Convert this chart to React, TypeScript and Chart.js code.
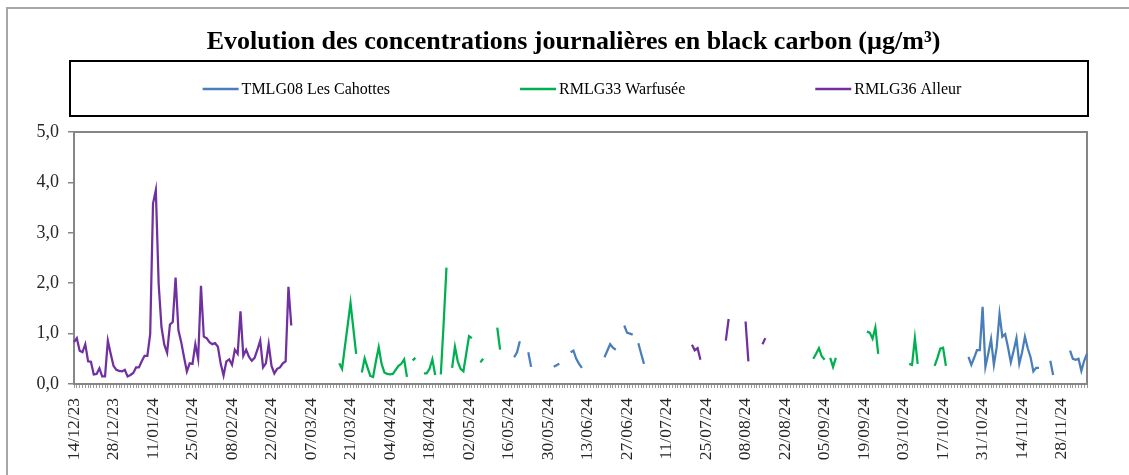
import React, { useEffect, useRef } from 'react';
import { Chart, registerables } from 'chart.js';

Chart.register(...registerables);

// ---------- data ----------
const START_DATE = '2023-12-14';
const END_DATE = '2024-12-07';
const LABEL_EVERY_DAYS = 14;

const TITLE = 'Evolution des concentrations journalières en black carbon (µg/m³)';
const SERIES_NAMES = ['TMLG08 Les Cahottes', 'RMLG33 Warfusée', 'RMLG36 Alleur'];
const SERIES_COLORS = ['#4a7ebb', '#00b050', '#7030a0'];

const Y_MIN = 0;
const Y_MAX = 5;
const Y_STEP = 1;

// [first day of the run, daily values]
const TMLG08_SEGMENTS: [string, number[]][] = [
  ['2024-05-18', [0.53, 0.63, 0.85]],
  ['2024-05-23', [0.63, 0.34]],
  ['2024-06-01', [0.34, 0.37, 0.4]],
  ['2024-06-07', [0.63, 0.66, 0.5, 0.4, 0.32]],
  ['2024-06-19', [0.53, 0.66, 0.79, 0.72, 0.68]],
  ['2024-06-26', [1.16, 1.02, 1.0, 0.98]],
  ['2024-07-01', [0.81, 0.6, 0.4]],
  ['2024-10-26', [0.54, 0.38, 0.52, 0.67, 0.67, 1.53, 0.34, 0.6, 0.89, 0.38, 0.73, 1.39, 0.94, 0.99, 0.73, 0.43, 0.66, 0.91, 0.4, 0.63, 0.94, 0.71, 0.53, 0.25, 0.32, 0.32]],
  ['2024-11-24', [0.46, 0.18]],
  ['2024-12-01', [0.66, 0.5, 0.48, 0.5, 0.26, 0.46, 0.6]],
];

const RMLG33_SEGMENTS: [string, number[]][] = [
  ['2024-03-17', [0.41, 0.3, 0.74, 1.17, 1.61, 1.1, 0.6]],
  ['2024-03-25', [0.23, 0.51, 0.33, 0.16, 0.14, 0.45, 0.73, 0.4, 0.23, 0.2, 0.19, 0.2, 0.28, 0.36, 0.4, 0.49, 0.14]],
  ['2024-04-12', [0.47, 0.52]],
  ['2024-04-16', [0.21, 0.21, 0.3, 0.49, 0.18]],
  ['2024-04-22', [0.19, 1.2, 2.31]],
  ['2024-04-26', [0.32, 0.74, 0.45, 0.3, 0.25, 0.6, 0.95, 0.91]],
  ['2024-05-06', [0.43, 0.5]],
  ['2024-05-12', [1.12, 0.68]],
  ['2024-09-01', [0.5, 0.6, 0.71, 0.55, 0.48]],
  ['2024-09-07', [0.52, 0.34, 0.52]],
  ['2024-09-20', [1.04, 1.02, 0.9, 1.12, 0.6]],
  ['2024-10-05', [0.4, 0.38, 0.91, 0.4]],
  ['2024-10-14', [0.36, 0.52, 0.7, 0.72, 0.36]],
];

const RMLG36_SEGMENTS: [string, number[]][] = [
  ['2023-12-14', [
    0.83, 0.91, 0.66, 0.63, 0.79, 0.45, 0.44, 0.19, 0.2, 0.31,
    0.15, 0.15, 0.86, 0.6, 0.36, 0.28, 0.26, 0.25, 0.28, 0.15,
    0.18, 0.22, 0.33, 0.33, 0.45, 0.56, 0.56, 0.99, 3.58, 3.85,
    1.99, 1.13, 0.78, 0.62, 1.18, 1.23, 2.11, 1.07, 0.83, 0.53,
    0.25, 0.41, 0.4, 0.79, 0.5, 1.95, 0.94, 0.91, 0.83, 0.79,
    0.81, 0.74, 0.4, 0.17, 0.45, 0.49, 0.38, 0.68, 0.6, 1.44,
    0.56, 0.68, 0.54, 0.46, 0.52, 0.68, 0.86, 0.33, 0.41, 0.79,
    0.36, 0.21, 0.3, 0.33, 0.41, 0.45, 1.93, 1.16,
  ]],
  ['2024-07-20', [0.78, 0.67, 0.71, 0.48]],
  ['2024-08-01', [0.86, 1.29]],
  ['2024-08-08', [1.24, 0.45]],
  ['2024-08-14', [0.79, 0.91]],
];

// ---------- helpers ----------
const DAY_MS = 86400000;
const toUTC = (iso: string) => Date.parse(iso + 'T00:00:00Z');
const pad2 = (n: number) => String(n).padStart(2, '0');

function buildLabels(): string[] {
  const out: string[] = [];
  for (let t = toUTC(START_DATE); t <= toUTC(END_DATE); t += DAY_MS) {
    const d = new Date(t);
    out.push(`${pad2(d.getUTCDate())}/${pad2(d.getUTCMonth() + 1)}/${pad2(d.getUTCFullYear() % 100)}`);
  }
  return out;
}

function buildSeries(segments: [string, number[]][], n: number): (number | null)[] {
  const arr: (number | null)[] = new Array(n).fill(null);
  const t0 = toUTC(START_DATE);
  segments.forEach(([start, vals]) => {
    const i0 = Math.round((toUTC(start) - t0) / DAY_MS);
    vals.forEach((v, k) => {
      if (i0 + k >= 0 && i0 + k < n) arr[i0 + k] = v;
    });
  });
  return arr;
}

const SERIF = "'Liberation Serif', 'Times New Roman', serif";

export default function App() {
  const canvasRef = useRef<HTMLCanvasElement | null>(null);

  useEffect(() => {
    const canvas = canvasRef.current;
    if (!canvas) return;
    const labels = buildLabels();
    const n = labels.length;
    const allSegments = [TMLG08_SEGMENTS, RMLG33_SEGMENTS, RMLG36_SEGMENTS];

    const decorPlugin = {
      id: 'decor',
      beforeDraw(chart: any) {
        const ctx = chart.ctx;
        ctx.save();
        ctx.fillStyle = '#ffffff';
        ctx.fillRect(0, 0, chart.width, chart.height);
        // outer frame
        ctx.strokeStyle = '#a6a6a6';
        ctx.lineWidth = 2;
        ctx.beginPath();
        ctx.moveTo(chart.width + 2, 8);
        ctx.lineTo(7, 8);
        ctx.lineTo(7, chart.height + 2);
        ctx.stroke();
        ctx.restore();
      },
      beforeDatasetsDraw(chart: any) {
        const { ctx, chartArea } = chart;
        ctx.save();
        ctx.strokeStyle = '#868686';
        ctx.lineWidth = 2;
        ctx.strokeRect(chartArea.left, chartArea.top, chartArea.right - chartArea.left, chartArea.bottom - chartArea.top);
        ctx.restore();
      },
      afterDraw(chart: any) {
        const ctx = chart.ctx;
        ctx.save();
        // title
        ctx.fillStyle = '#000000';
        ctx.font = `bold 26px ${SERIF}`;
        ctx.textAlign = 'center';
        ctx.textBaseline = 'alphabetic';
        ctx.fillText(TITLE, 573.5, 49);
        // legend frame
        ctx.strokeStyle = '#000000';
        ctx.lineWidth = 2;
        ctx.strokeRect(70, 61, 1018, 55);
        // legend items
        const LINE_W = 36;
        const GAP = 3;
        const ITEM_GAP = 130;
        const CENTER = 582;
        const Y = 89;
        ctx.font = `16px ${SERIF}`;
        ctx.textBaseline = 'middle';
        ctx.textAlign = 'left';
        const ds = chart.data.datasets;
        const widths = ds.map((d: any) => LINE_W + GAP + ctx.measureText(d.label).width);
        const total = widths.reduce((a: number, b: number) => a + b, 0) + ITEM_GAP * (ds.length - 1);
        let x = CENTER - total / 2;
        ds.forEach((d: any, i: number) => {
          ctx.strokeStyle = d.borderColor;
          ctx.lineWidth = 2.5;
          ctx.beginPath();
          ctx.moveTo(x, Y);
          ctx.lineTo(x + LINE_W, Y);
          ctx.stroke();
          ctx.fillStyle = '#000000';
          ctx.fillText(d.label, x + LINE_W + GAP, Y + 1);
          x += widths[i] + ITEM_GAP;
        });
        ctx.restore();
      },
    };

    const chart = new Chart(canvas, {
      type: 'line',
      data: {
        labels,
        datasets: SERIES_NAMES.map((name, i) => ({
          label: name,
          data: buildSeries(allSegments[i], n),
          borderColor: SERIES_COLORS[i],
          backgroundColor: SERIES_COLORS[i],
          borderWidth: 2.25,
          pointRadius: 0,
          pointHoverRadius: 0,
          tension: 0,
          spanGaps: false,
          fill: false,
        })),
      },
      options: {
        animation: false,
        responsive: false,
        maintainAspectRatio: false,
        events: [],
        layout: { padding: { left: 0, right: 42, top: 132, bottom: 0 } },
        plugins: {
          legend: { display: false },
          tooltip: { enabled: false },
          title: { display: false },
        },
        scales: {
          x: {
            type: 'category',
            offset: false,
            border: { display: false },
            grid: {
              display: true,
              drawOnChartArea: false,
              drawTicks: true,
              tickLength: 4,
              color: '#9a9a9a',
              lineWidth: 1,
            },
            ticks: {
              autoSkip: false,
              maxRotation: 90,
              minRotation: 90,
              padding: 10,
              color: '#262626',
              font: { family: SERIF, size: 17.5 },
              callback: (_v: any, i: number) => (i % LABEL_EVERY_DAYS === 0 ? labels[i] : ''),
            },
            afterFit: (s: any) => { s.height = 91; },
          },
          y: {
            min: Y_MIN,
            max: Y_MAX,
            border: { display: false },
            grid: {
              display: true,
              drawOnChartArea: false,
              drawTicks: true,
              tickLength: 6,
              color: '#868686',
              lineWidth: 1.5,
            },
            ticks: {
              stepSize: Y_STEP,
              padding: 9,
              color: '#262626',
              font: { family: SERIF, size: 18 },
              callback: (v: any) => Number(v).toFixed(1).replace('.', ','),
            },
            afterFit: (s: any) => { s.width = 74; },
          },
        },
      },
      plugins: [decorPlugin],
    } as any);

    return () => chart.destroy();
  }, []);

  return (
    <div style={{ position: 'absolute', left: 0, top: 0, width: 1129, height: 475, background: '#fff' }}>
      <canvas ref={canvasRef} width={1129} height={475} style={{ display: 'block', width: 1129, height: 475 }} />
    </div>
  );
}
